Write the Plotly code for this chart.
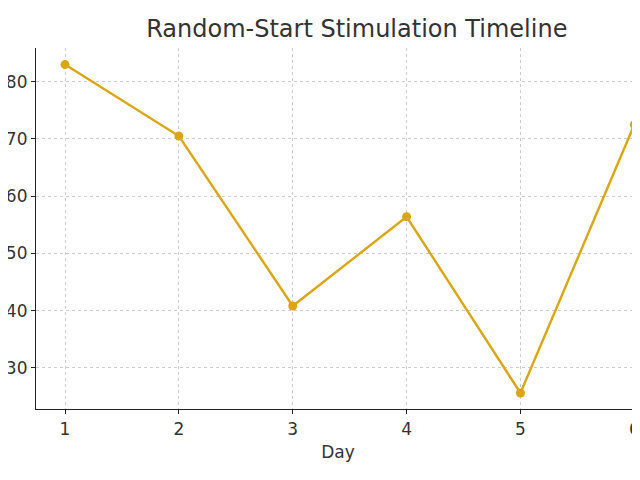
import plotly.graph_objects as go

days = [1, 2, 3, 4, 5, 6]
values = [83.0, 70.5, 40.8, 56.4, 25.6, 72.5]

fig = go.Figure(go.Scatter(x=days, y=values, mode="lines+markers", cliponaxis=False,
    line=dict(color="#DBA514", width=2.4), marker=dict(color="#DBA514", size=9)))
fig.update_layout(
    width=640, height=480, plot_bgcolor="white", paper_bgcolor="white",
    margin=dict(l=28, r=8, t=40, b=79, autoexpand=False),
    font=dict(family="DejaVu Sans", size=17, color="#333"),
    title=dict(text="Random-Start Stimulation Timeline", x=0.545, xanchor="center",
               y=1 - 21/480, yanchor="middle", font=dict(size=24, color="#333")),
    showlegend=False,
)
axis_common = dict(showgrid=True, gridcolor="#cccccc", griddash="3px,3px", gridwidth=1,
                   showline=True, linecolor="#222", linewidth=1.2, ticks="outside",
                   ticklen=4, tickcolor="#222", zeroline=False, automargin=False)
fig.update_xaxes(range=[0.745, 6.05], tickvals=days, title=dict(text="Day", font=dict(size=17), standoff=8), **axis_common)
fig.update_yaxes(range=[22.8, 85.9], tickvals=[30, 40, 50, 60, 70, 80], **axis_common)
fig.write_html("out.html")
